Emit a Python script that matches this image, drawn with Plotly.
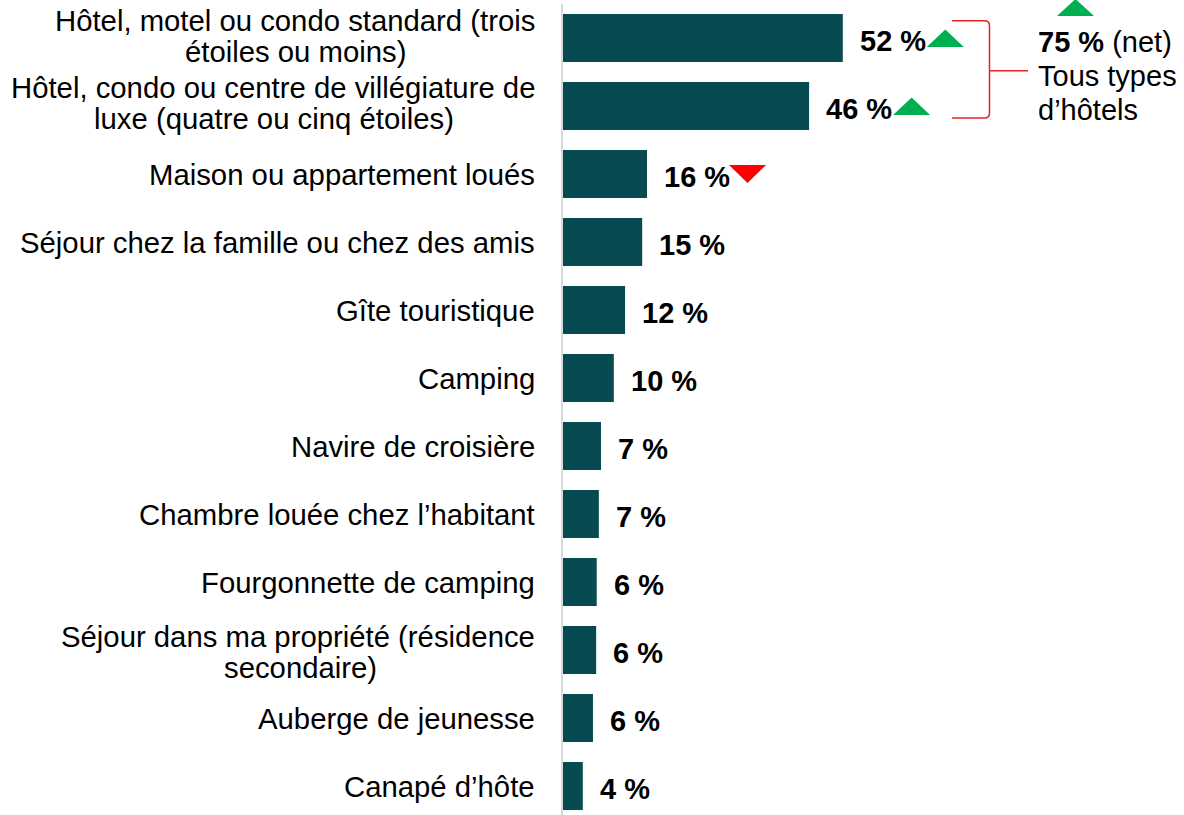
import plotly.graph_objects as go

# ---------------- data ----------------
categories = [
    "Hôtel, motel ou condo standard (trois\nétoiles ou moins)",
    "Hôtel, condo ou centre de villégiature de\nluxe (quatre ou cinq étoiles)",
    "Maison ou appartement loués",
    "Séjour chez la famille ou chez des amis",
    "Gîte touristique",
    "Camping",
    "Navire de croisière",
    "Chambre louée chez l’habitant",
    "Fourgonnette de camping",
    "Séjour dans ma propriété (résidence\nsecondaire)",
    "Auberge de jeunesse",
    "Canapé d’hôte",
]
values = [52.3, 46.0, 15.7, 14.8, 11.6, 9.5, 7.1, 6.7, 6.3, 6.2, 5.6, 3.7]
value_labels = ["52 %", "46 %", "16 %", "15 %", "12 %", "10 %", "7 %", "7 %",
                "6 %", "6 %", "6 %", "4 %"]
trends = ["up", "up", "down", None, None, None, None, None, None, None, None, None]
net_value_label = "75 %"
net_suffix = "(net)"
net_caption = ["Tous types", "d’hôtels"]
net_trend = "up"

# ---------------- styling / geometry ----------------
W, H = 1184, 815
ML, MR, MT, MB = 563, 0, 4, 0
PW, PH = W - ML - MR, H - MT - MB
PX_PER_PCT = 5.35
PX_PER_ROW = 68.0
XMAX = PW / PX_PER_PCT
Y_TOP = -0.5
Y_BOT = Y_TOP + PH / PX_PER_ROW

FONT = "Liberation Sans, Arial, sans-serif"
FS = 29.3
BAR_COLOR = "#074a52"
GREEN = "#00b050"
RED = "#ff0000"
BRACKET = "#e3242b"


def paper_x(px):
    return (px - ML) / PW


def paper_y(py):
    return (H - MB - py) / PH


ys = list(range(len(categories)))

fig = go.Figure(
    go.Bar(
        x=values,
        y=ys,
        orientation="h",
        width=48 / PX_PER_ROW,
        marker=dict(color=BAR_COLOR, line=dict(width=0)),
        hoverinfo="skip",
    )
)

annotations = []
shapes = []

# category labels (one annotation per line for tight line spacing)
line_gap = 31
block_offset = {0: -2, 1: -3, 9: 2}
second_line_right = {0: 408, 1: 456, 9: 379}
for i, cat in enumerate(categories):
    lines = cat.split("\n")
    if len(lines) == 1:
        annotations.append(dict(
            x=0, y=i, xref="x", yref="y", text=lines[0], showarrow=False,
            xanchor="right", yanchor="middle", xshift=-26, yshift=0,
            font=dict(family=FONT, size=FS, color="#000000")))
    else:
        off = block_offset.get(i, 0)
        annotations.append(dict(
            x=0, y=i, xref="x", yref="y", text=lines[0], showarrow=False,
            xanchor="right", yanchor="middle", xshift=-26,
            yshift=line_gap / 2 - off,
            font=dict(family=FONT, size=FS, color="#000000")))
        annotations.append(dict(
            x=0, y=i, xref="x", yref="y", text=lines[1], showarrow=False,
            xanchor="right", yanchor="middle",
            xshift=second_line_right[i] - ML,
            yshift=-line_gap / 2 - off,
            font=dict(family=FONT, size=FS, color="#000000")))

# value labels + trend triangles
for i, (v, lab, tr) in enumerate(zip(values, value_labels, trends)):
    annotations.append(dict(
        x=v, y=i, xref="x", yref="y", text="<b>" + lab + "</b>",
        showarrow=False, xanchor="left", yanchor="middle", xshift=15, yshift=-3,
        font=dict(family=FONT, size=29, color="#000000")))
    if tr == "up":
        shapes.append(dict(
            type="path", xref="x", yref="y", xsizemode="pixel", ysizemode="pixel",
            xanchor=v, yanchor=i,
            path="M 84,-9 L 121,-9 L 102.5,8.5 Z",
            fillcolor=GREEN, line=dict(width=0)))
    elif tr == "down":
        shapes.append(dict(
            type="path", xref="x", yref="y", xsizemode="pixel", ysizemode="pixel",
            xanchor=v, yanchor=i,
            path="M 82,9 L 119,9 L 100.5,-9 Z",
            fillcolor=RED, line=dict(width=0)))

# bracket grouping the two hotel rows
bx0, bx1, r = 952, 989.5, 5
by0, by1, bym = 20.7, 118, 70.7
bracket_path = (
    f"M {paper_x(bx0)},{paper_y(by0)} "
    f"L {paper_x(bx1 - r)},{paper_y(by0)} "
    f"Q {paper_x(bx1)},{paper_y(by0)} {paper_x(bx1)},{paper_y(by0 + r)} "
    f"L {paper_x(bx1)},{paper_y(by1 - r)} "
    f"Q {paper_x(bx1)},{paper_y(by1)} {paper_x(bx1 - r)},{paper_y(by1)} "
    f"L {paper_x(bx0)},{paper_y(by1)}"
)
shapes.append(dict(type="path", xref="paper", yref="paper", path=bracket_path,
                   line=dict(color=BRACKET, width=1.5)))
shapes.append(dict(type="line", xref="paper", yref="paper",
                   x0=paper_x(bx1), x1=paper_x(1028), y0=paper_y(bym), y1=paper_y(bym),
                   line=dict(color=BRACKET, width=1.5)))

# net annotation
if net_trend == "up":
    shapes.append(dict(
        type="path", xref="paper", yref="paper",
        path=(f"M {paper_x(1057)},{paper_y(16)} L {paper_x(1094)},{paper_y(16)} "
              f"L {paper_x(1075.5)},{paper_y(-1)} Z"),
        fillcolor=GREEN, line=dict(width=0)))

annotations.append(dict(
    x=paper_x(1036), y=paper_y(42), xref="paper", yref="paper",
    text=f"<b>{net_value_label}</b> {net_suffix}", showarrow=False,
    xanchor="left", yanchor="middle",
    font=dict(family=FONT, size=29, color="#000000")))
for k, line in enumerate(net_caption):
    annotations.append(dict(
        x=paper_x(1036), y=paper_y(76 + 34 * k), xref="paper", yref="paper",
        text=line, showarrow=False, xanchor="left", yanchor="middle",
        font=dict(family=FONT, size=29, color="#000000")))

fig.update_layout(
    width=W, height=H,
    margin=dict(l=ML, r=MR, t=MT, b=MB, pad=0),
    paper_bgcolor="white", plot_bgcolor="white",
    showlegend=False,
    xaxis=dict(range=[0, XMAX], visible=False, fixedrange=True),
    yaxis=dict(range=[Y_BOT, Y_TOP], showticklabels=False, ticks="",
               showgrid=False, zeroline=False, showline=True,
               linecolor="#d9d9d9", linewidth=2, fixedrange=True),
    annotations=annotations,
    shapes=shapes,
)

fig.write_html(
    "out.html",
    config={"displayModeBar": False},
    post_script="document.body.style.margin='0';document.body.style.overflow='hidden';",
)
